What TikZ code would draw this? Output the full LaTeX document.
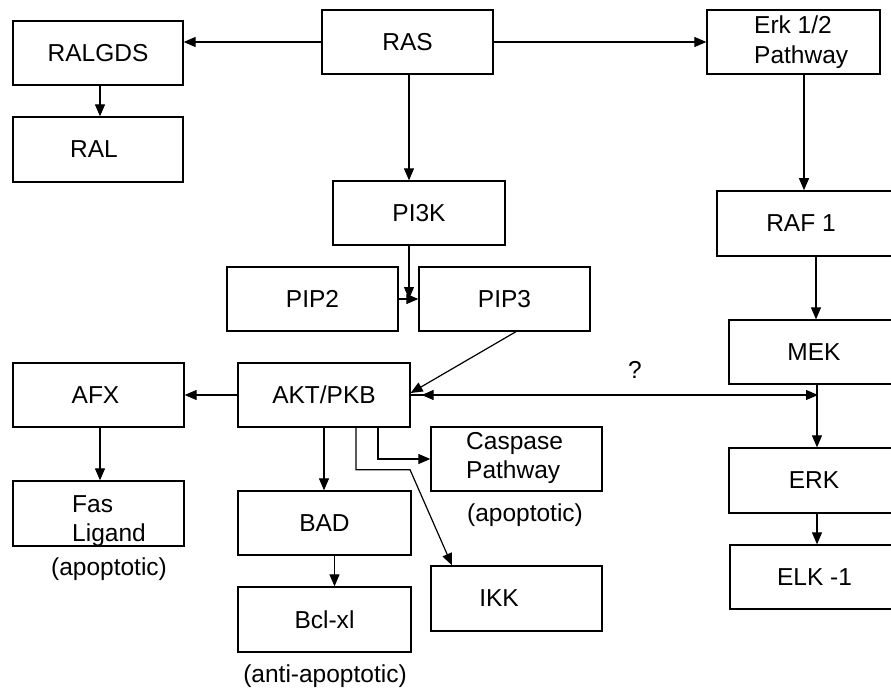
\documentclass[tikz,border=0pt]{standalone}
\usepackage{fontspec}
\setmainfont{Liberation Sans}
\usetikzlibrary{arrows.meta,calc}
\begin{document}
\begin{tikzpicture}[x=1pt,y=-1pt,
  box/.style={draw, line width=1.3pt, inner sep=0pt, font=\fontsize{24.5}{29}\selectfont},
  lbl/.style={inner sep=0pt, font=\fontsize{24.5}{29.5}\selectfont},
  arr/.style={line width=1.2pt, -{Triangle[length=12pt,width=10pt]}},
  ln/.style={line width=1.2pt}]
\useasboundingbox (0,0) rectangle (891,688);
\fill[white] (0,0) rectangle (891,688);
% boxes
\node[box, minimum width=170pt, minimum height=64pt] (ralgds) at (98,53) {RALGDS};
\node[box, minimum width=171pt, minimum height=64pt] (ras) at (407.5,42) {RAS};
\node[box, minimum width=170pt, minimum height=65pt] (ral) at (98,149.5) {\hspace{-8pt}RAL};
\node[box, minimum width=173pt, minimum height=64pt] (erk12) at (793.5,42) {};
\node[lbl, anchor=west, align=left] (erk12t) at (754,42) {Erk 1/2\\Pathway};
\node[box, minimum width=172pt, minimum height=64pt] (pi3k) at (419,213) {PI3K};
\node[box, minimum width=176pt, minimum height=65pt, line width=1.6pt] (raf) at (805,223.5) {\hspace{-8pt}RAF 1};
\node[box, minimum width=171pt, minimum height=64pt] (pip2) at (312.5,299) {PIP2};
\node[box, minimum width=171pt, minimum height=64pt] (pip3) at (504.5,299) {PIP3};
\node[box, minimum width=164pt, minimum height=64pt] (mek) at (811,352) {\hspace{6pt}MEK};
\node[box, minimum width=171pt, minimum height=64pt] (afx) at (98.5,395) {\hspace{-6pt}AFX};
\node[box, minimum width=172pt, minimum height=64pt] (akt) at (324,395) {AKT/PKB};
\node[box, minimum width=171pt, minimum height=64pt] (casp) at (516.5,459) {};
\node[lbl, anchor=west, align=left] (caspt) at (466,458) {Caspase\\Pathway};
\node[box, minimum width=164pt, minimum height=65pt] (erk) at (811,480.5) {\hspace{6pt}ERK};
\node[box, minimum width=171pt, minimum height=65pt] (fas) at (98.5,513.5) {};
\node[lbl, anchor=west, align=left] (fast) at (72,521) {Fas\\Ligand};
\node[box, minimum width=173pt, minimum height=64pt] (bad) at (324.5,523) {BAD};
\node[box, minimum width=163pt, minimum height=64pt] (elk) at (811.5,577) {\hspace{6pt}ELK -1};
\node[box, minimum width=171pt, minimum height=65pt] (ikk) at (516.5,598.5) {};
\node[lbl] (ikkt) at (499,598) {IKK};
\node[box, minimum width=173pt, minimum height=65pt] (bcl) at (324.5,619.5) {Bcl-xl};
% labels
\node[lbl] (q) at (635,370) {?};
\node[lbl] (apo1) at (109,569) {(apoptotic)};
\node[lbl] (apo2) at (525,515) {(apoptotic)};
\node[lbl] (anti) at (325,676) {(anti-apoptotic)};
% connectors
\draw[arr] (ras.west) -- (ras.west -| ralgds.east);
\draw[arr] (ras.east) -- (erk12.west);
\draw[arr] ([xshift=2pt]ralgds.south) -- ([xshift=2pt]ral.north);
\draw[arr] ([xshift=1.5pt]ras.south) -- ([xshift=1.5pt]ras.south |- pi3k.north);
\coordinate (j1) at (409,299);
\draw[arr] (pi3k.south -| j1) -- (j1);
\draw[arr] (pip2.east) -- (pip3.west);
\draw[arr] ([xshift=11.5pt]pip3.south) -- ([yshift=2pt]akt.east);
\draw[arr] (akt.west) -- (afx.east);
\draw[arr] ([xshift=1.5pt]afx.south) -- ([xshift=1.5pt]fas.north);
\draw[arr] (akt.south) -- (akt.south |- bad.north);
\draw[arr] ([xshift=10pt]bad.south) -- ([xshift=10pt]bad.south |- bcl.north);
\draw[arr] ([xshift=54pt]akt.south) |- (casp.west);
\draw[arr] ([xshift=32pt]akt.south) -- ++(0,42) -- ++(54,0) -- ([xshift=-64.5pt]ikk.north);
\draw[arr] ([xshift=10.5pt]erk12.south) -- ([xshift=10.5pt]erk12.south |- raf.north);
\draw[arr] ([xshift=11pt]raf.south) -- ([xshift=11pt]raf.south |- mek.north);
\coordinate (mj) at (817,395);
\draw[arr] ([xshift=6pt]mek.south) -- ([xshift=6pt]mek.south |- erk.north);
\draw[arr] ([xshift=6pt]erk.south) -- ([xshift=6pt]erk.south |- elk.north);
\draw[ln] (akt.east) -- (mj);
\draw[arr, shorten >=-1pt] (akt.east) -- (mj);
\draw[arr] ([xshift=14pt]akt.east) -- ([xshift=11pt]akt.east);
\end{tikzpicture}
\end{document}
